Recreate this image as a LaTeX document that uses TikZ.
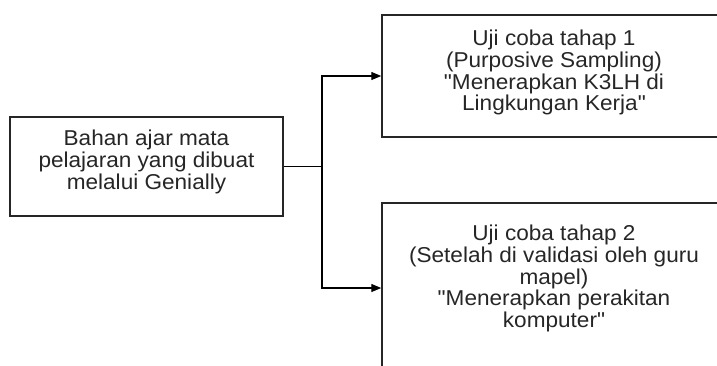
\documentclass[tikz,border=0pt]{standalone}
\usepackage{fontspec}
\setmainfont{Liberation Sans}[Ligatures=TeXOff, FakeStretch=1.05]
\usetikzlibrary{arrows.meta}
\begin{document}
\begin{tikzpicture}[x=1pt,y=-1pt,
  box/.style={draw=black!85, line width=1.5pt, inner sep=0pt},
  txt/.style={align=center, inner sep=0pt, font=\fontsize{21.5}{21.7}\selectfont, text=black!85},
  conn/.style={line width=1.3pt, draw=black},
  arr/.style={conn, -{Triangle[length=10pt,width=8pt]}}]
\useasboundingbox (0,0) rectangle (717,365);
\begin{scope}
\clip (0,0) rectangle (717,365);
\node[box, minimum width=273pt, minimum height=99pt] (L) at (146.5,166.5) {};
\node[txt] (Lt) at (146.5,161.9) {Bahan ajar mata\\pelajaran yang dibuat\\melalui Genially};
\node[box, minimum width=344pt, minimum height=122pt] (T1) at (554,76) {};
\node[txt] (T1t) at (554,72.7) {Uji coba tahap 1\\(Purposive Sampling)\\"Menerapkan K3LH di\\Lingkungan Kerja"};
\node[box, minimum width=344pt, minimum height=170pt] (T2) at (554,288) {};
\node[txt] (T2t) at (554,278.5) {Uji coba tahap 2\\(Setelah di validasi oleh guru\\mapel)\\"Menerapkan perakitan\\komputer"};
\end{scope}
\coordinate (J) at (322,166.5);
\draw[conn] (L.east) -- (J);
\draw[arr] (J) |- (T1.west);
\draw[arr] (J) |- (T2.west);
\end{tikzpicture}
\end{document}
